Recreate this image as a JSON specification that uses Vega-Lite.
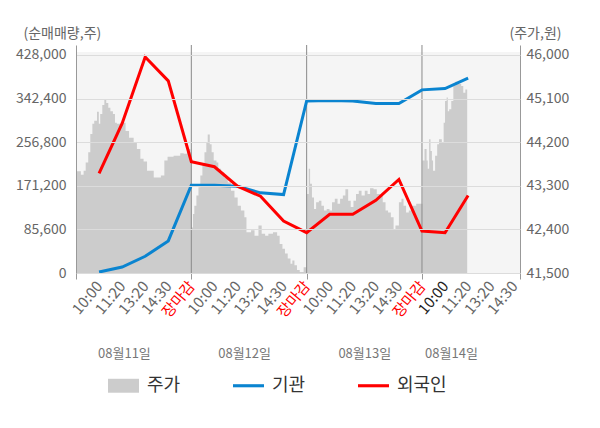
{
  "$schema": "https://vega.github.io/schema/vega-lite/v6.json",
  "width": 444,
  "height": 228,
  "autosize": "none",
  "padding": {"left": 76, "top": 45, "right": 80, "bottom": 155},
  "config": {
    "font": "Noto Sans CJK KR",
    "view": {"stroke": null},
    "axis": {"labelFontSize": 14, "labelColor": "#666666", "titleColor": "#666666", "titleFontWeight": "normal", "titleFontSize": 14}
  },
  "layer": [
    {
      "data": {"values": [{}]},
      "mark": {"type": "rect", "color": "#f5f5f5"},
      "encoding": {
        "x": {"datum": 0, "type": "quantitative", "axis": null},
        "x2": {"datum": 19.25},
        "y": {"datum": 41500, "type": "quantitative", "scale": {"domain": [41500, 46206], "nice": false, "zero": false}, "axis": null},
        "y2": {"datum": 46061}
      }
    },
    {
      "data": {"values": [
        {"t": 0, "p": 42690}, {"t": 0.04, "p": 43600}, {"t": 0.21, "p": 43530}, {"t": 0.33, "p": 43610},
        {"t": 0.42, "p": 43780}, {"t": 0.53, "p": 43990}, {"t": 0.62, "p": 44370}, {"t": 0.71, "p": 44580},
        {"t": 0.79, "p": 44640}, {"t": 0.91, "p": 44830}, {"t": 0.99, "p": 44580}, {"t": 1.05, "p": 44780},
        {"t": 1.14, "p": 44970}, {"t": 1.23, "p": 45070}, {"t": 1.31, "p": 45010}, {"t": 1.40, "p": 44910},
        {"t": 1.49, "p": 44840}, {"t": 1.60, "p": 44780}, {"t": 1.69, "p": 44600}, {"t": 1.77, "p": 44580},
        {"t": 2.01, "p": 44600}, {"t": 2.15, "p": 44430}, {"t": 2.30, "p": 44290}, {"t": 2.50, "p": 44190},
        {"t": 2.64, "p": 44060}, {"t": 2.79, "p": 43860}, {"t": 2.93, "p": 43800}, {"t": 3.08, "p": 43610},
        {"t": 3.37, "p": 43470}, {"t": 3.68, "p": 43510}, {"t": 3.83, "p": 43820}, {"t": 3.97, "p": 43900},
        {"t": 4.23, "p": 43920}, {"t": 4.52, "p": 43970}, {"t": 4.67, "p": 43960}, {"t": 4.81, "p": 44060},
        {"t": 4.96, "p": 43990},
        {"t": 5.0, "p": 42440}, {"t": 5.07, "p": 42720}, {"t": 5.13, "p": 42890}, {"t": 5.22, "p": 43100},
        {"t": 5.31, "p": 43270}, {"t": 5.39, "p": 43510}, {"t": 5.48, "p": 43750}, {"t": 5.57, "p": 43990},
        {"t": 5.65, "p": 44190}, {"t": 5.71, "p": 44360}, {"t": 5.80, "p": 44160}, {"t": 5.88, "p": 43990},
        {"t": 5.97, "p": 43820}, {"t": 6.09, "p": 43780}, {"t": 6.17, "p": 43650}, {"t": 6.29, "p": 43580},
        {"t": 6.43, "p": 43470}, {"t": 6.58, "p": 43370}, {"t": 6.72, "p": 43200}, {"t": 6.87, "p": 43060},
        {"t": 7.01, "p": 42890}, {"t": 7.15, "p": 42790}, {"t": 7.30, "p": 42650}, {"t": 7.39, "p": 42340},
        {"t": 7.59, "p": 42380}, {"t": 7.74, "p": 42270}, {"t": 7.91, "p": 42480}, {"t": 8.05, "p": 42310},
        {"t": 8.20, "p": 42270}, {"t": 8.34, "p": 42310}, {"t": 8.54, "p": 42340}, {"t": 8.72, "p": 42270},
        {"t": 8.83, "p": 42100}, {"t": 8.95, "p": 42000}, {"t": 9.06, "p": 41900}, {"t": 9.18, "p": 41800},
        {"t": 9.30, "p": 41690}, {"t": 9.38, "p": 41760}, {"t": 9.47, "p": 41660}, {"t": 9.58, "p": 41560},
        {"t": 9.70, "p": 41520}, {"t": 9.87, "p": 41620},
        {"t": 10.0, "p": 43130}, {"t": 10.09, "p": 43650}, {"t": 10.15, "p": 43340}, {"t": 10.23, "p": 43060},
        {"t": 10.32, "p": 42820}, {"t": 10.41, "p": 42960}, {"t": 10.53, "p": 42990}, {"t": 10.64, "p": 42890},
        {"t": 10.75, "p": 42790}, {"t": 10.87, "p": 42820}, {"t": 10.99, "p": 42790}, {"t": 11.10, "p": 42960},
        {"t": 11.22, "p": 43030}, {"t": 11.34, "p": 42930}, {"t": 11.45, "p": 43030}, {"t": 11.57, "p": 43100},
        {"t": 11.68, "p": 43230}, {"t": 11.80, "p": 42990}, {"t": 11.91, "p": 42860}, {"t": 12.03, "p": 42990},
        {"t": 12.14, "p": 43130}, {"t": 12.26, "p": 43200}, {"t": 12.38, "p": 43100}, {"t": 12.52, "p": 43200},
        {"t": 12.64, "p": 43130}, {"t": 12.75, "p": 43250}, {"t": 12.90, "p": 43230}, {"t": 13.04, "p": 43130},
        {"t": 13.18, "p": 43100}, {"t": 13.30, "p": 42960}, {"t": 13.42, "p": 42790}, {"t": 13.53, "p": 42750},
        {"t": 13.65, "p": 42650}, {"t": 13.77, "p": 42410}, {"t": 13.85, "p": 42480}, {"t": 14.00, "p": 42960},
        {"t": 14.11, "p": 43030}, {"t": 14.20, "p": 42890}, {"t": 14.31, "p": 42750}, {"t": 14.43, "p": 42790},
        {"t": 14.55, "p": 42890}, {"t": 14.75, "p": 42930},
        {"t": 15.02, "p": 43820}, {"t": 15.11, "p": 44060}, {"t": 15.20, "p": 43820}, {"t": 15.25, "p": 43650},
        {"t": 15.31, "p": 44260}, {"t": 15.37, "p": 44020}, {"t": 15.43, "p": 43820}, {"t": 15.48, "p": 43610},
        {"t": 15.57, "p": 43920}, {"t": 15.66, "p": 44160}, {"t": 15.74, "p": 44260}, {"t": 15.86, "p": 44190},
        {"t": 15.94, "p": 44600}, {"t": 16.00, "p": 45050}, {"t": 16.07, "p": 45120}, {"t": 16.12, "p": 44840},
        {"t": 16.18, "p": 44880}, {"t": 16.27, "p": 45050}, {"t": 16.36, "p": 45360}, {"t": 16.44, "p": 45450},
        {"t": 16.53, "p": 45400}, {"t": 16.70, "p": 45360}, {"t": 16.79, "p": 45220}, {"t": 16.88, "p": 45290},
        {"t": 16.96, "p": 45290}
      ]},
      "mark": {"type": "area", "interpolate": "step-after"},
      "encoding": {
        "x": {"field": "t", "type": "quantitative", "axis": null},
        "y": {
          "field": "p", "type": "quantitative",
          "scale": {"domain": [41500, 46206], "nice": false, "zero": false},
          "axis": {
            "orient": "right",
            "values": [41500, 42400, 43300, 44200, 45100, 46000],
            "format": ",d",
            "grid": false,
            "ticks": false,
            "labelPadding": 6,
            "domainColor": "#999999",
            "title": "(주가,원)",
            "titleAngle": 0,
            "titleAlign": "left",
            "titleBaseline": "middle",
            "titleX": -11,
            "titleY": -12
          }
        },
        "y2": {"datum": 41500},
        "color": {
          "datum": "주가",
          "scale": {"domain": ["주가", "기관", "외국인"], "range": ["#cccccc", "#0a84d0", "#ff0000"]},
          "legend": {
            "orient": "none",
            "legendX": 32,
            "legendY": 325,
            "direction": "horizontal",
            "title": null,
            "padding": 0,
            "labelFontSize": 18,
            "labelColor": "#333333",
            "labelOffset": 8,
            "symbolSize": 961,
            "symbolType": "square",
            "symbolStrokeWidth": 0,
            "columnPadding": 52,
            "encode": {
              "symbols": {
                "update": {
                  "shape": {"signal": "datum.value == '주가' ? 'M-1,-0.45H1V0.45H-1Z' : 'M-1,-0.1H1V0.1H-1Z'"}
                }
              }
            }
          }
        }
      }
    },
    {
      "data": {"values": [{"t": 5}, {"t": 10}, {"t": 15}]},
      "mark": {"type": "rule", "color": "#8a8a8a", "strokeWidth": 1},
      "encoding": {
        "x": {"field": "t", "type": "quantitative", "axis": null},
        "y": {"datum": 0, "type": "quantitative", "scale": {"domain": [0, 447600], "nice": false, "zero": false}, "axis": null},
        "y2": {"datum": 447600}
      }
    },
    {
      "data": {"values": [
        {"t": 1, "v": 2000, "s": "기관"},
        {"t": 2, "v": 11800, "s": "기관"},
        {"t": 3, "v": 32800, "s": "기관"},
        {"t": 4, "v": 63000, "s": "기관"},
        {"t": 5, "v": 172500, "s": "기관"},
        {"t": 6, "v": 172500, "s": "기관"},
        {"t": 7, "v": 170400, "s": "기관"},
        {"t": 8, "v": 157400, "s": "기관"},
        {"t": 9, "v": 154000, "s": "기관"},
        {"t": 10, "v": 337900, "s": "기관"},
        {"t": 11, "v": 338500, "s": "기관"},
        {"t": 12, "v": 337500, "s": "기관"},
        {"t": 13, "v": 332700, "s": "기관"},
        {"t": 14, "v": 332700, "s": "기관"},
        {"t": 15, "v": 359500, "s": "기관"},
        {"t": 16, "v": 362000, "s": "기관"},
        {"t": 17, "v": 382500, "s": "기관"},
        {"t": 1, "v": 195400, "s": "외국인"},
        {"t": 2, "v": 293600, "s": "외국인"},
        {"t": 3, "v": 423900, "s": "외국인"},
        {"t": 4, "v": 377200, "s": "외국인"},
        {"t": 5, "v": 218400, "s": "외국인"},
        {"t": 6, "v": 208600, "s": "외국인"},
        {"t": 7, "v": 170400, "s": "외국인"},
        {"t": 8, "v": 150700, "s": "외국인"},
        {"t": 9, "v": 101900, "s": "외국인"},
        {"t": 10, "v": 79100, "s": "외국인"},
        {"t": 11, "v": 115100, "s": "외국인"},
        {"t": 12, "v": 115100, "s": "외국인"},
        {"t": 13, "v": 142700, "s": "외국인"},
        {"t": 14, "v": 183600, "s": "외국인"},
        {"t": 15, "v": 82300, "s": "외국인"},
        {"t": 16, "v": 79100, "s": "외국인"},
        {"t": 17, "v": 152100, "s": "외국인"}
      ]},
      "mark": {"type": "line", "strokeWidth": 3},
      "encoding": {
        "x": {"field": "t", "type": "quantitative", "axis": null},
        "y": {
          "field": "v", "type": "quantitative",
          "scale": {"domain": [0, 447600], "nice": false, "zero": false},
          "axis": {
            "orient": "left",
            "values": [0, 85600, 171200, 256800, 342400, 428000],
            "format": ",d",
            "grid": true,
            "gridColor": "#dcdcdc",
            "ticks": false,
            "labelPadding": 10,
            "domainColor": "#999999",
            "zindex": 1,
            "title": "(순매매량,주)",
            "titleAngle": 0,
            "titleAlign": "left",
            "titleBaseline": "middle",
            "titleX": -53,
            "titleY": -12
          }
        },
        "color": {"field": "s", "type": "nominal", "legend": null}
      }
    },
    {
      "data": {"values": [
        {"t": 2.1, "label": "08월11일"},
        {"t": 7.31, "label": "08월12일"},
        {"t": 12.52, "label": "08월13일"},
        {"t": 16.28, "label": "08월14일"}
      ]},
      "mark": {"type": "text", "fontSize": 13, "color": "#777777", "baseline": "middle"},
      "encoding": {
        "x": {
          "field": "t", "type": "quantitative",
          "scale": {"domain": [0, 19.25], "nice": false, "zero": false},
          "axis": {
            "values": [0, 1, 2, 3, 4, 5, 6, 7, 8, 9, 10, 11, 12, 13, 14, 15, 16, 17, 18, 19, 19.25],
            "title": null,
            "grid": false,
            "labelAngle": -50,
            "labelAlign": "right",
            "labelBaseline": "middle",
            "labelFontSize": 15,
            "labelPadding": 4,
            "labelOverlap": false,
            "labelFlush": false,
            "labelBound": false,
            "tickSize": 6,
            "tickColor": "#999999",
            "domainColor": "#999999",
            "tickOpacity": {"condition": {"test": "datum.value % 5 == 0 || datum.value > 19.1", "value": 1}, "value": 0},
            "labelColor": {"condition": [{"test": "datum.value % 5 == 0", "value": "#ff0000"}, {"test": "datum.value == 16", "value": "#222222"}], "value": "#666666"},
            "labelExpr": "datum.value == 0 || datum.value > 19.1 ? '' : datum.value % 5 == 0 ? '장마감' : datum.value % 5 == 1 ? '10:00' : datum.value % 5 == 2 ? '11:20' : datum.value % 5 == 3 ? '13:20' : '14:30'"
          }
        },
        "y": {"datum": -159000, "type": "quantitative", "scale": {"domain": [0, 447600], "nice": false, "zero": false}, "axis": null},
        "text": {"field": "label"}
      }
    }
  ],
  "resolve": {"scale": {"y": "independent"}, "axis": {"x": "independent"}}
}
